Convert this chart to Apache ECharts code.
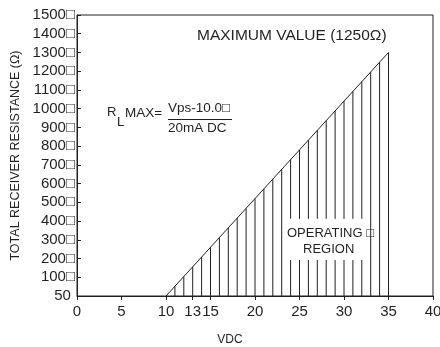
<!DOCTYPE html>
<html>
<head>
<meta charset="utf-8">
<script src="https://cdn.jsdelivr.net/npm/echarts@6/dist/echarts.min.js"></script>
<style>
  html, body { margin: 0; padding: 0; background: #fff; }
  #chart { width: 440px; height: 347px; }
</style>
</head>
<body>
<div id="chart"></div>
<script>
// 负载电阻 vs 电源电压

// 斜线（最大值）
var limitVolts = [10, 35];
var limitOhms = [0, 1300];

// 竖线阴影（工作区）
var hatchVolts = [10, 11, 12, 13, 14, 15, 16, 17, 18, 19, 20, 21, 22, 23, 24, 25, 26, 27, 28, 29, 30, 31, 32, 33, 34, 35];
var hatchTops = [0, 52, 104, 156, 208, 260, 312, 364, 416, 468, 520, 572, 624, 676, 728, 780, 832, 884, 936, 988, 1040, 1092, 1144, 1196, 1248, 1300];

// 文字框挡住的竖线
var gapVoltMin = 24, gapVoltMax = 32;
var gapOhmLow = 192, gapOhmHigh = 412;

// 刻度
var xTicks = [0, 5, 10, 13, 15, 20, 25, 30, 35, 40];

var ink = '#231f20';
var font = "'Liberation Sans', Arial, sans-serif";

var chart = echarts.init(document.getElementById('chart'));

var limitData = limitVolts.map(function (v, i) { return [v, limitOhms[i]]; });
var hatchData = hatchVolts.map(function (v, i) { return [v, hatchTops[i]]; });

function seg(a, b) {
    return {
        type: 'line',
        shape: { x1: a[0], y1: a[1], x2: b[0], y2: b[1] },
        style: { stroke: ink, lineWidth: 1 }
    };
}

option = {
    animation: false,
    backgroundColor: '#fff',
    grid: {
        left: 77,
        right: 7,
        top: 15,
        bottom: 51,
        outerBoundsMode: 'none',
        show: true,
        borderColor: ink,
        borderWidth: 1
    },
    xAxis: {
        type: 'value',
        min: 0,
        max: 40,
        name: 'VDC',
        nameLocation: 'middle',
        nameGap: 38,
        nameTextStyle: { color: ink, fontFamily: font, fontSize: 12, padding: [0, 50, 0, 0] },
        axisLine: { lineStyle: { color: ink, width: 1 } },
        axisTick: { show: true, length: 4, customValues: xTicks, lineStyle: { color: ink } },
        axisLabel: { customValues: xTicks, color: ink, fontFamily: font, fontSize: 15, margin: 8 },
        splitLine: { show: false }
    },
    yAxis: {
        type: 'value',
        min: 0,
        max: 1500,
        interval: 100,
        name: 'TOTAL RECEIVER RESISTANCE (\u03a9)',
        nameLocation: 'middle',
        nameRotate: 90,
        nameGap: 54,
        nameTextStyle: { color: ink, fontFamily: font, fontSize: 12.5 },
        axisLine: { show: true, lineStyle: { color: ink, width: 1 } },
        axisTick: { show: true, inside: true, length: 4, lineStyle: { color: ink } },
        axisLabel: {
            color: ink, fontFamily: font, fontSize: 15, margin: 2,
            formatter: function (v) { return v === 0 ? '50 ' : v + '\u25a1'; }
        },
        splitLine: { show: false }
    },
    graphic: [
        { type: 'text', left: 197, top: 28, style: { text: 'MAXIMUM VALUE (1250\u03a9)', fill: ink, font: '15.5px ' + font } },
        { type: 'text', left: 107, top: 106, style: { text: 'R', fill: ink, font: '13px ' + font } },
        { type: 'text', left: 117, top: 116, style: { text: 'L', fill: ink, font: '13px ' + font } },
        { type: 'text', left: 125, top: 106, style: { text: 'MAX=', fill: ink, font: '13.5px ' + font } },
        { type: 'text', left: 168, top: 101, style: { text: 'Vps-10.0\u25a1', fill: ink, font: '13.5px ' + font } },
        { type: 'line', shape: { x1: 168, y1: 119.5, x2: 232, y2: 119.5 }, style: { stroke: ink, lineWidth: 1 } },
        { type: 'text', left: 168, top: 121, style: { text: '20mA DC', fill: ink, font: '13.5px ' + font } },
        { type: 'text', left: 287, top: 227, style: { text: 'OPERATING \u25a1', fill: ink, font: '13px ' + font } },
        { type: 'text', left: 303, top: 243, style: { text: 'REGION', fill: ink, font: '13px ' + font } }
    ],
    series: [
        {
            name: 'limit',
            type: 'line',
            data: limitData,
            symbol: 'none',
            lineStyle: { color: ink, width: 1 }
        },
        {
            name: 'hatch',
            type: 'custom',
            data: hatchData,
            renderItem: function (params, api) {
                var v = api.value(0), top = api.value(1);
                var p0 = api.coord([v, 0]);
                var p1 = api.coord([v, top]);
                if (v >= gapVoltMin && v <= gapVoltMax) {
                    return {
                        type: 'group',
                        children: [
                            seg(p0, api.coord([v, gapOhmLow])),
                            seg(api.coord([v, gapOhmHigh]), p1)
                        ]
                    };
                }
                return seg(p0, p1);
            }
        }
    ]
};
chart.setOption(option);
</script>
</body>
</html>
